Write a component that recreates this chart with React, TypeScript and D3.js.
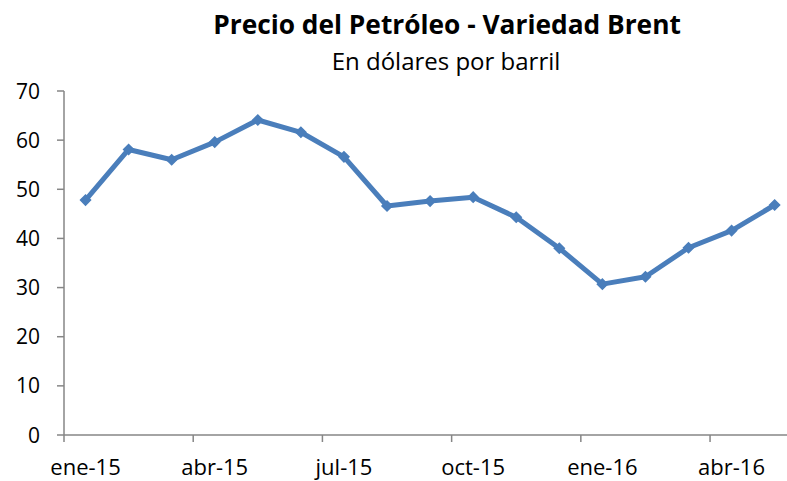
import React, { useEffect, useRef } from "react";
import * as d3 from "d3";

const months = [
  "ene-15", "feb-15", "mar-15", "abr-15", "may-15", "jun-15", "jul-15", "ago-15",
  "sep-15", "oct-15", "nov-15", "dic-15", "ene-16", "feb-16", "mar-16", "abr-16", "may-16",
];
const brent = [
  47.8, 58.1, 56.0, 59.6, 64.1, 61.6, 56.6, 46.6,
  47.6, 48.4, 44.3, 38.0, 30.7, 32.2, 38.1, 41.6, 46.8,
];
const yTicks = [0, 10, 20, 30, 40, 50, 60, 70];
const title = "Precio del Petróleo - Variedad Brent";
const subtitle = "En dólares por barril";

const App: React.FC = () => {
  const svgRef = useRef<SVGSVGElement | null>(null);
  const width = 787;
  const height = 481;
  const left = 64;
  const top = 91;
  const bottom = 435;
  const step = 43.07;

  useEffect(() => {
    document.body.style.margin = "0";
    const svg = d3.select(svgRef.current);
    svg.selectAll("*").remove();
    svg.attr("width", width).attr("height", height).style("display", "block");

    const font = "'Open Sans', 'Noto Sans', sans-serif";
    const axisColor = "#868686";
    const blue = "#4a7ebb";

    const x = d3
      .scaleBand()
      .domain(months)
      .range([left, left + step * months.length])
      .padding(0);

    const y = d3.scaleLinear().domain([0, 70]).range([bottom, top]);

    // titles
    svg
      .append("text")
      .attr("x", 447)
      .attr("y", 34)
      .attr("text-anchor", "middle")
      .style("font-family", font)
      .style("font-weight", "bold")
      .style("font-size", "26.3px")
      .text(title);
    svg
      .append("text")
      .attr("x", 446)
      .attr("y", 70)
      .attr("text-anchor", "middle")
      .style("font-family", font)
      .style("font-size", "24px")
      .text(subtitle);

    // y axis
    const gy = svg.append("g");
    gy.append("line")
      .attr("x1", left)
      .attr("x2", left)
      .attr("y1", y(70))
      .attr("y2", y(0))
      .attr("stroke", axisColor)
      .attr("stroke-width", 1.5);
    yTicks.forEach((t) => {
      gy.append("line")
        .attr("x1", left - 7)
        .attr("x2", left)
        .attr("y1", y(t))
        .attr("y2", y(t))
        .attr("stroke", axisColor)
        .attr("stroke-width", 1.5);
      gy.append("text")
        .attr("x", 40)
        .attr("y", y(t))
        .attr("dy", "0.36em")
        .attr("text-anchor", "end")
        .style("font-family", font)
        .style("font-size", "21px")
        .attr("fill", "#000")
        .text(t);
    });

    // x axis, ticks and labels every 3 months
    const gx = svg.append("g");
    gx.append("line")
      .attr("x1", left)
      .attr("x2", left + step * months.length)
      .attr("y1", bottom)
      .attr("y2", bottom)
      .attr("stroke", axisColor)
      .attr("stroke-width", 1.5);
    months.forEach((m, i) => {
      if (i % 3 !== 0) return;
      const bx = x(m) as number;
      gx.append("line")
        .attr("x1", bx)
        .attr("x2", bx)
        .attr("y1", bottom)
        .attr("y2", bottom + 7)
        .attr("stroke", axisColor)
        .attr("stroke-width", 1.5);
      gx.append("text")
        .attr("x", bx + x.bandwidth() / 2)
        .attr("y", 475)
        .attr("text-anchor", "middle")
        .style("font-family", font)
        .style("font-size", "22px")
        .attr("fill", "#000")
        .text(m);
    });

    const cx = (i: number) => (x(months[i]) as number) + x.bandwidth() / 2;

    const line = d3
      .line<number>()
      .x((_, i) => cx(i))
      .y((d) => y(d));

    svg
      .append("path")
      .datum(brent)
      .attr("fill", "none")
      .attr("stroke", blue)
      .attr("stroke-width", 5)
      .attr("stroke-linejoin", "round")
      .attr("d", line);

    // Excel-style diamond: square turned 45°
    const diamond = d3.symbol().type(d3.symbolSquare).size(50);
    svg
      .append("g")
      .selectAll("path")
      .data(brent)
      .enter()
      .append("path")
      .attr("d", diamond)
      .attr("transform", (d, i) => `translate(${cx(i)}, ${y(d)}) rotate(45)`)
      .attr("fill", blue)
      .attr("stroke", blue)
      .attr("stroke-width", 1.5);
  }, []);

  return <svg ref={svgRef}></svg>;
};

export default App;
